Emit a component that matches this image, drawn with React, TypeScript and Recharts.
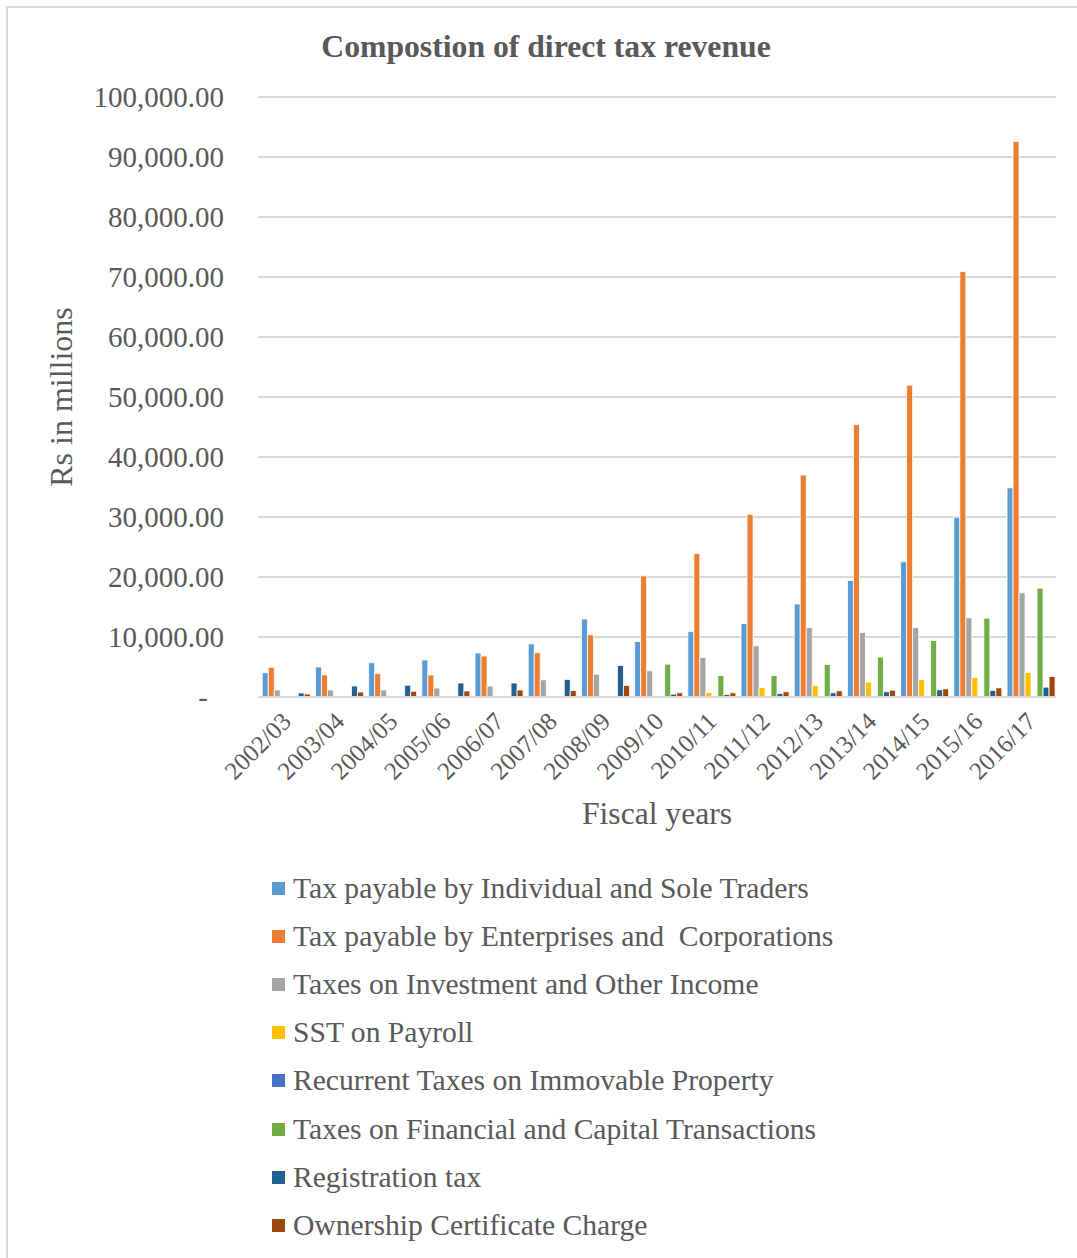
import { BarChart, Bar, XAxis, YAxis, CartesianGrid, Legend, Label } from "recharts";

const FONT = '"Liberation Serif", "Times New Roman", serif';
const INK = "#595959";
const GRID = "#d9d9d9";

const years = [
  "2002/03", "2003/04", "2004/05", "2005/06", "2006/07", "2007/08", "2008/09", "2009/10",
  "2010/11", "2011/12", "2012/13", "2013/14", "2014/15", "2015/16", "2016/17",
];

// Rs in millions
const individual = [4050, 5000, 5720, 6170, 7330, 8850, 13000, 9250, 10900, 12250, 15500, 19420, 22530, 29970, 34870];
const enterprises = [4950, 3670, 3900, 3670, 6830, 7370, 10370, 20200, 23900, 30450, 37000, 45400, 51970, 70900, 92600];
const investment = [1170, 1170, 1170, 1500, 1830, 2870, 3800, 4370, 6580, 8530, 11580, 10750, 11580, 13200, 17370];
const sst = [null, null, null, null, null, null, null, null, 750, 1580, 1920, 2470, 2920, 3250, 4080];
const recurrent = [null, null, null, null, null, null, null, null, null, null, null, null, null, null, null];
const financial = [null, null, null, null, null, null, null, 5470, 3580, 3580, 5420, 6640, 9420, 13140, 18140];
const registration = [670, 1830, 1950, 2330, 2330, 2920, 5250, 470, 420, 580, 700, 870, 1200, 1080, 1640];
const ownership = [500, 830, 950, 1000, 1170, 1080, 1920, 700, 700, 870, 1030, 1140, 1360, 1530, 3420];

const yTicks = [0, 10000, 20000, 30000, 40000, 50000, 60000, 70000, 80000, 90000, 100000];

const series = [
  { key: "individual", name: "Tax payable by Individual and Sole Traders", color: "#5B9BD5", values: individual },
  { key: "enterprises", name: "Tax payable by Enterprises and  Corporations", color: "#ED7D31", values: enterprises },
  { key: "investment", name: "Taxes on Investment and Other Income", color: "#A5A5A5", values: investment },
  { key: "sst", name: "SST on Payroll", color: "#FFC000", values: sst },
  { key: "recurrent", name: "Recurrent Taxes on Immovable Property", color: "#4472C4", values: recurrent },
  { key: "financial", name: "Taxes on Financial and Capital Transactions", color: "#70AD47", values: financial },
  { key: "registration", name: "Registration tax", color: "#255E91", values: registration },
  { key: "ownership", name: "Ownership Certificate Charge", color: "#9E480E", values: ownership },
];

const data = years.map((year, i) => {
  const row: Record<string, string | number | null> = { year };
  series.forEach((s) => {
    row[s.key] = s.values[i];
  });
  return row;
});

const fmt = (v: number) =>
  v === 0 ? "-" : v.toLocaleString("en-US", { minimumFractionDigits: 2, maximumFractionDigits: 2 });

const ValueTick = ({ x, y, payload }: any) => (
  <text
    x={payload.value === 0 ? x - 16 : x}
    y={y}
    dy="0.35em"
    textAnchor="end"
    fill={INK}
    fontSize={29}
    fontFamily={FONT}
  >
    {fmt(payload.value)}
  </text>
);

const YearTick = ({ x, y, payload }: any) => (
  <g transform={`translate(${x + 8},${y + 26})`}>
    <text transform="rotate(-45)" textAnchor="end" fill={INK} fontSize={25} fontFamily={FONT}>
      {payload.value}
    </text>
  </g>
);

const LegendList = ({ payload }: any) => {
  const order = series.map((s) => s.key);
  const items = [...(payload || [])].sort(
    (a: any, b: any) => order.indexOf(a.dataKey) - order.indexOf(b.dataKey)
  );
  return (
    <div style={{ fontFamily: FONT, fontSize: 29.6, color: INK }}>
      {items.map((item: any) => (
        <div key={item.dataKey} style={{ display: "flex", alignItems: "center", height: 48.2 }}>
          <span style={{ width: 13, height: 13, background: item.color, marginRight: 8, flex: "none" }} />
          <span style={{ whiteSpace: "pre" }}>{item.value}</span>
        </div>
      ))}
    </div>
  );
};

export default function App() {
  return (
    <div style={{ position: "absolute", left: 0, top: 0, width: 1077, height: 1258, background: "#fff", overflow: "hidden" }}>
      <div
        style={{
          position: "absolute",
          left: 6,
          top: 6,
          right: -10,
          bottom: -10,
          borderLeft: `2px solid ${GRID}`,
          borderTop: `2px solid ${GRID}`,
        }}
      />
      <div
        style={{
          position: "absolute",
          left: 7,
          width: 1078,
          top: 31,
          textAlign: "center",
          fontFamily: FONT,
          fontWeight: "bold",
          fontSize: 31.7,
          lineHeight: "31px",
          color: INK,
        }}
      >
        Compostion of direct tax revenue
      </div>
      <div style={{ position: "absolute", left: 0, top: 0 }}>
        <BarChart
          width={1077}
          height={1258}
          data={data}
          margin={{ top: 97, right: 21, left: 78, bottom: 421 }}
          barCategoryGap="8%"
          barGap={0}
        >
          <CartesianGrid vertical={false} stroke={GRID} strokeWidth={2} />
          <XAxis
            dataKey="year"
            height={140}
            axisLine={{ stroke: GRID, strokeWidth: 2 }}
            tickLine={false}
            tickSize={0}
            tickMargin={0}
            interval={0}
            tick={<YearTick />}
          >
            <Label value="Fiscal years" position="center" dy={46} fill={INK} fontSize={31.6} fontFamily={FONT} />
          </XAxis>
          <YAxis
            width={180}
            domain={[0, 100000]}
            ticks={yTicks}
            axisLine={false}
            tickLine={false}
            tickSize={0}
            tickMargin={34}
            tick={<ValueTick />}
          >
            <Label value="Rs in millions" position="center" angle={-90} dx={-107} fill={INK} fontSize={32} fontFamily={FONT} />
          </YAxis>
          <Legend
            layout="vertical"
            align="center"
            verticalAlign="middle"
            wrapperStyle={{ left: 272, top: 864 }}
            content={<LegendList />}
          />
          {series.map((s) => (
            <Bar
              key={s.key}
              dataKey={s.key}
              name={s.name}
              fill={s.color}
              stroke="#fff"
              strokeWidth={0.8}
              isAnimationActive={false}
            />
          ))}
        </BarChart>
      </div>
    </div>
  );
}
